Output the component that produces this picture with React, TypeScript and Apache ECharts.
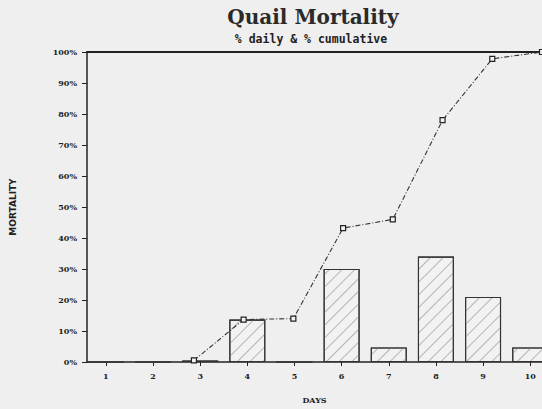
import React, { useEffect, useRef } from "react";
import * as echarts from "echarts";

const days = [1, 2, 3, 4, 5, 6, 7, 8, 9, 10];
const dailyPct = [0, 0, 0.5, 13.7, 0, 30, 4.7, 34, 21, 4.7];
const cumulativePct: (number | null)[] = [null, null, 0.5, 13.7, 14, 43.2, 46, 78, 97.8, 100];

const titleText = "Quail Mortality";
const subtitleText = "% daily & % cumulative";
const yName = "MORTALITY";
const xName = "DAYS";

const ink = "#222";

export default function App() {
  const ref = useRef<HTMLDivElement>(null);
  useEffect(() => {
    if (!ref.current) return;
    const chart = echarts.init(ref.current, null, { renderer: "svg" });
    const barData = days.map((d, i) => [d, dailyPct[i]]);
    const lineData = days
      .map((d, i) => [d, cumulativePct[i]])
      .filter((p) => p[1] !== null);
    chart.setOption({
      animation: false,
      backgroundColor: "#efefef",
      title: [
        {
          text: titleText,
          left: 313,
          top: 7,
          textAlign: "center",
          padding: 0,
          textStyle: { fontFamily: "DejaVu Serif", fontWeight: "bold", fontSize: 20, color: "#2a2a2a" },
        },
        {
          text: subtitleText,
          left: 311,
          top: 33,
          textAlign: "center",
          padding: 0,
          textStyle: { fontFamily: "DejaVu Sans Mono", fontWeight: "bold", fontSize: 11.5, color: ink },
        },
      ],
      grid: { left: 82, right: 0, top: 52, bottom: 42, containLabel: false },
      xAxis: [
        {
          type: "value",
          min: 0.6,
          max: 10.25,
          position: "bottom",
          name: xName,
          nameLocation: "middle",
          nameGap: 34,
          nameTextStyle: { fontFamily: "DejaVu Serif", fontWeight: "bold", fontSize: 8, color: ink },
          axisLine: { show: true, onZero: false, lineStyle: { color: ink, width: 1.5 } },
          axisTick: { show: true, customValues: days, length: 4, lineStyle: { color: ink } },
          axisLabel: {
            customValues: days,
            margin: 10,
            fontFamily: "DejaVu Serif",
            fontWeight: "bold",
            fontSize: 8,
            color: ink,
          },
          splitLine: { show: false },
        },
        {
          type: "value",
          min: 0.85,
          max: 10,
          position: "top",
          axisLine: { show: true, onZero: false, lineStyle: { color: ink, width: 2 } },
          axisTick: { show: false },
          axisLabel: { show: false },
          splitLine: { show: false },
        },
      ],
      yAxis: {
        type: "value",
        min: 0,
        max: 100,
        interval: 10,
        name: yName,
        nameLocation: "middle",
        nameGap: 70,
        nameRotate: 90,
        nameTextStyle: { fontFamily: "DejaVu Sans", fontWeight: "bold", fontSize: 9, color: ink },
        axisLine: { show: true, onZero: false, lineStyle: { color: ink, width: 1.5 } },
        axisTick: { show: true, length: 5, lineStyle: { color: ink } },
        axisLabel: {
          formatter: "{value}%",
          margin: 10,
          fontFamily: "DejaVu Serif",
          fontWeight: "bold",
          fontSize: 8,
          color: ink,
        },
        splitLine: { show: false },
      },
      series: [
        {
          type: "bar",
          xAxisIndex: 0,
          data: barData,
          barWidth: 36,
          itemStyle: {
            color: "#f2f2f2",
            borderColor: "#333",
            borderWidth: 1.1,
            decal: {
              symbol: "rect",
              dashArrayX: [1, 0],
              dashArrayY: [1, 8],
              rotation: -Math.PI / 4,
              color: "#b4b4b4",
            },
          },
        },
        {
          type: "line",
          xAxisIndex: 1,
          data: lineData,
          symbol: "rect",
          symbolSize: 5,
          lineStyle: { color: "#333", width: 1.1, type: [5, 2, 1, 2] },
          itemStyle: { color: "#f2f2f2", borderColor: ink, borderWidth: 1.2 },
        },
      ],
    });
    return () => chart.dispose();
  }, []);
  return (
    <div
      ref={ref}
      style={{ position: "fixed", left: 0, top: 0, width: 542, height: 409 }}
    />
  );
}
